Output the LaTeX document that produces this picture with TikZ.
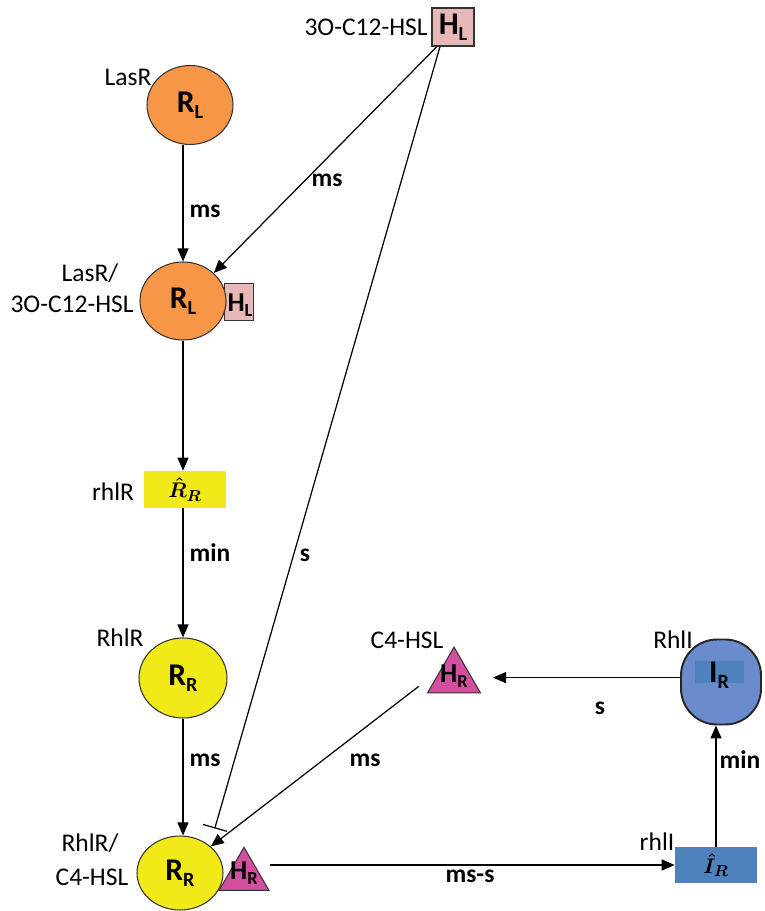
\documentclass[tikz,border=0pt]{standalone}
\usepackage{fontspec}
\setmainfont{Carlito}
\usepackage{amsmath,bm}
\usetikzlibrary{arrows.meta,shapes.geometric}
\definecolor{orangeL}{RGB}{247,150,70}
\definecolor{pinkH}{RGB}{230,185,184}
\definecolor{yellowR}{RGB}{241,233,24}
\definecolor{magH}{RGB}{212,80,158}
\definecolor{blueO}{RGB}{106,140,204}
\definecolor{blueI}{RGB}{79,129,189}
\newcommand\symb[2]{{\fontsize{18}{20}\selectfont\bfseries #1\raisebox{-0.4ex}{\fontsize{11.5}{12}\selectfont #2}}}
\tikzset{
  lab/.style={font=\fontsize{14.5}{16}\selectfont, inner sep=0pt},
  elab/.style={font=\fontsize{14.5}{16}\selectfont\bfseries, inner sep=0pt},
  recep/.style={ellipse, draw=black!80, line width=0.6pt, inner sep=0pt},
  hbox/.style={rectangle, draw=black!80, fill=pinkH, line width=0.6pt, inner sep=0pt},
  htri/.style={regular polygon, regular polygon sides=3, draw=black!80, fill=magH, line width=0.6pt, inner sep=0pt},
  gene/.style={rectangle, inner sep=0pt, font=\fontsize{12.5}{14}\selectfont\boldmath},
  arr/.style={line width=0.7pt, -{Triangle[length=0.26cm,width=0.22cm]}},
  inh/.style={line width=0.7pt, -{Bar[width=0.5cm,line width=0.7pt]}}
}
\begin{document}
\begin{tikzpicture}[x=0.02cm,y=-0.02cm]
\useasboundingbox (0,0) rectangle (764,911);
% nodes
\node[hbox, minimum width=0.84cm, minimum height=0.76cm] (HLt) at (453,27) {\symb{H}{L}};
\node[lab, anchor=east] (HLtlab) at (428,27) {3O-C12-HSL};

\node[recep, fill=orangeL, minimum width=1.72cm, minimum height=1.58cm] (RLt) at (190,105) {\symb{R}{L}};
\node[lab] (RLtlab) at (128,77) {LasR};

\node[hbox, minimum width=0.58cm, minimum height=0.74cm] (HLm) at (239,302) {};
\node[recep, fill=orangeL, minimum width=1.72cm, minimum height=1.56cm] (RLm) at (183,301) {\symb{R}{L}};
\node[font=\fontsize{15.5}{16}\selectfont\bfseries, inner sep=0pt] (HLmtxt) at (240,305) {H\raisebox{-0.4ex}{\fontsize{10.5}{12}\selectfont L}};
\node[lab] (RLmlab1) at (90,273) {LasR/};
\node[lab, anchor=east] (RLmlab2) at (134,304) {3O-C12-HSL};

\node[gene, fill=yellowR, minimum width=1.64cm, minimum height=0.74cm] (rhlR) at (185,489.5) {$\bm{\hat{R}_R}$};
\node[lab] (rhlRlab) at (113,492) {rhlR};

\node[recep, fill=yellowR, minimum width=1.76cm, minimum height=1.6cm] (RR) at (183,678) {\symb{R}{R}};
\node[lab] (RRlab) at (120,638) {RhlR};

\node[recep, fill=yellowR, minimum width=1.72cm, minimum height=1.48cm] (RRb) at (180,873) {\symb{R}{R}};
\node[htri, minimum size=1.15cm] (HRb) at (244,876) {};
\node[font=\fontsize{15.5}{16}\selectfont\bfseries, inner sep=0pt] (HRbtxt) at (244,873) {H\raisebox{-0.4ex}{\fontsize{10.5}{12}\selectfont R}};
\node[lab] (RRblab1) at (90,843) {RhlR/};
\node[lab] (RRblab2) at (92,877) {C4-HSL};

\node[htri, minimum size=1.22cm] (C4) at (454,677.6) {};
\node[font=\fontsize{15.5}{16}\selectfont\bfseries, inner sep=0pt] (C4txt) at (454,676) {H\raisebox{-0.4ex}{\fontsize{10.5}{12}\selectfont R}};
\node[lab] (C4lab) at (407,640) {C4-HSL};

\node[rectangle, rounded corners=0.72cm, draw=black!85, line width=1.1pt, fill=blueO, minimum width=1.6cm, minimum height=1.7cm] (RhlI) at (721,682) {};
\node[rectangle, fill=blueI, minimum width=0.98cm, minimum height=0.44cm, inner sep=0pt] (RhlIin) at (719,672) {};
\node[inner sep=0pt] (RhlItxt) at (719,675) {\symb{I}{R}};
\node[lab] (RhlIlab) at (673,640) {RhlI};

\node[gene, fill=blueI, minimum width=1.64cm, minimum height=0.72cm] (rhlI) at (716,865) {$\bm{\hat{I}_R}$};
\node[lab] (rhlIlab) at (657,842) {rhlI};

% connectors
\draw[arr] (RLt.south -| RLm.north) -- (RLm.north);
\node[elab] (l1) at (205,211) {ms};
\draw[arr] ([xshift=-0.32cm]HLt.south) -- (RLm.north east);
\node[elab] (l2) at (327,180) {ms};
\draw[arr] (RLm.south) -- (RLm.south |- rhlR.north);
\draw[arr] (rhlR.south -| RR.north) -- (RR.north);
\node[elab] (l3) at (210,553) {min};
\draw[inh] ([xshift=-0.26cm]HLt.south) -- ([shift={(4,-18)}]RRb.north east);
\node[elab] (l4) at (305,555) {s};
\draw[arr] (RR.south) -- (RR.south |- RRb.north);
\node[elab] (l5) at (205,760) {ms};
\draw[arr] ([shift={(-8,-7)}]C4.corner 2) -- (RRb.north east);
\node[elab] (l6) at (365,760) {ms};
\draw[arr] (RhlI.west |- C4.center) -- ([xshift=0.78cm]C4.center);
\node[elab] (l7) at (600,708) {s};
\draw[arr] (rhlI.north) -- (rhlI.north |- RhlI.south);
\node[elab] (l8) at (740,760) {min};
\draw[arr] (rhlI.west -| HRb.corner 3) -- (rhlI.west);
\node[elab] (l9) at (470,876) {ms-s};
\end{tikzpicture}
\end{document}
